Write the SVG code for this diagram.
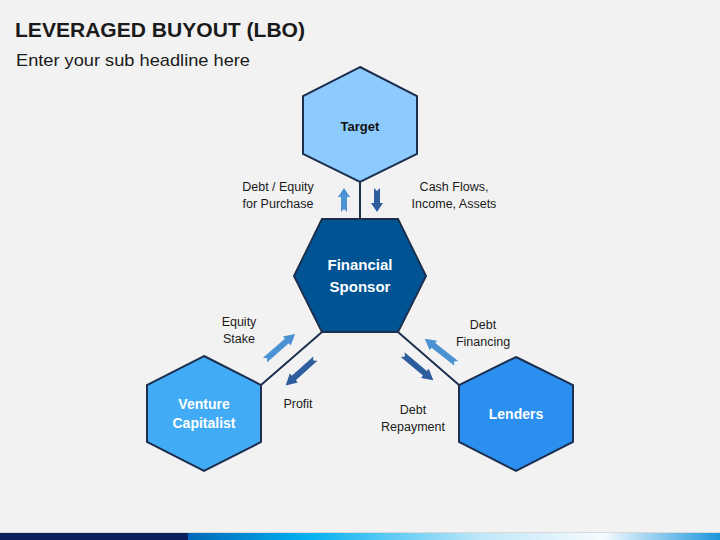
<svg xmlns="http://www.w3.org/2000/svg" width="720" height="540" viewBox="0 0 720 540">
<defs>
<style>
.hex{stroke:#1c2f4f;stroke-width:2;stroke-linejoin:miter}
.lbl{font-family:"Liberation Sans",Arial,sans-serif;font-size:12.5px;fill:#1a1a1a;text-anchor:middle}
.node{font-family:"Liberation Sans",Arial,sans-serif;font-weight:bold;text-anchor:middle}
.conn{stroke:#1c2f4f;stroke-width:2;fill:none}
.light{fill:#4a92d4}
.dark{fill:#2e5d9e}
</style>
<path id="arS" d="M-12,-3 L3,-3 L3,-6 L12,0 L3,6 L3,3 L-12,3 L-9,0 Z"/>
<path id="arL" d="M-20,-3 L9,-3 L9,-6 L20,0 L9,6 L9,3 L-20,3 L-17,0 Z"/>
<linearGradient id="bar" x1="0" y1="0" x2="1" y2="0">
<stop offset="0" stop-color="#0068b8"/>
<stop offset="0.22" stop-color="#00b0f0"/>
<stop offset="0.55" stop-color="#bfe7f8"/>
<stop offset="0.78" stop-color="#f6fbfe"/>
<stop offset="1" stop-color="#1c96dc"/>
</linearGradient>
</defs>
<rect width="720" height="540" fill="#f2f2f2"/>
<text x="15" y="37" font-family="Liberation Sans,Arial,sans-serif" font-weight="bold" font-size="21" fill="#1a1a1a" textLength="290" lengthAdjust="spacingAndGlyphs">LEVERAGED BUYOUT (LBO)</text>
<text x="16" y="66" font-family="Liberation Sans,Arial,sans-serif" font-size="17" fill="#1a1a1a" textLength="234" lengthAdjust="spacingAndGlyphs">Enter your sub headline here</text>
<g id="connectors">
<line class="conn" x1="360" y1="182" x2="360" y2="219"/>
<line class="conn" x1="322" y1="332" x2="261" y2="385"/>
<line class="conn" x1="398" y1="332" x2="459" y2="385"/>
</g>
<g id="target">
<polygon class="hex" fill="#8dcbff" points="360,67 417,96 417,154 360,182 303,154 303,96"/>
<text class="node" x="360" y="131" font-size="13" fill="#111">Target</text>
</g>
<g id="sponsor">
<polygon class="hex" fill="#005494" points="322,219 398,219 426,276 398,332 322,332 294,276"/>
<text class="node" x="360" y="270" font-size="15" fill="#fff">Financial</text>
<text class="node" x="360" y="292" font-size="15" fill="#fff">Sponsor</text>
</g>
<g id="venture">
<polygon class="hex" fill="#42abf5" points="204,356 261,385 261,442 204,471 147,442 147,385"/>
<text class="node" x="204" y="409" font-size="14" fill="#fff">Venture</text>
<text class="node" x="204" y="428" font-size="14" fill="#fff">Capitalist</text>
</g>
<g id="lenders">
<polygon class="hex" fill="#2b8ff0" points="516,357 573,385 573,442 516,471 459,442 459,385"/>
<text class="node" x="516" y="419" font-size="14" fill="#fff">Lenders</text>
</g>
<g id="arrows">
<use href="#arS" class="light" transform="translate(344,200) rotate(-90)"/>
<use href="#arS" class="dark" transform="translate(377,200) rotate(90)"/>
<use href="#arL" class="light" transform="translate(280,347) rotate(-41)"/>
<use href="#arL" class="dark" transform="translate(300.5,372) rotate(138)"/>
<use href="#arL" class="light" transform="translate(440.5,351) rotate(-142)"/>
<use href="#arL" class="dark" transform="translate(418,367.5) rotate(40)"/>
</g>
<g id="labels">
<text class="lbl" x="278" y="191">Debt / Equity</text>
<text class="lbl" x="278" y="208">for Purchase</text>
<text class="lbl" x="454" y="191">Cash Flows,</text>
<text class="lbl" x="454" y="208">Income, Assets</text>
<text class="lbl" x="239" y="326">Equity</text>
<text class="lbl" x="239" y="343">Stake</text>
<text class="lbl" x="298" y="408">Profit</text>
<text class="lbl" x="483" y="329">Debt</text>
<text class="lbl" x="483" y="346">Financing</text>
<text class="lbl" x="413" y="414">Debt</text>
<text class="lbl" x="413" y="431">Repayment</text>
</g>
<rect x="0" y="532" width="720" height="1" fill="#d9d9d9"/>
<rect x="188" y="533" width="532" height="7" fill="url(#bar)"/>
<rect x="0" y="533" width="188" height="7" fill="#0a1f5c"/>
</svg>
